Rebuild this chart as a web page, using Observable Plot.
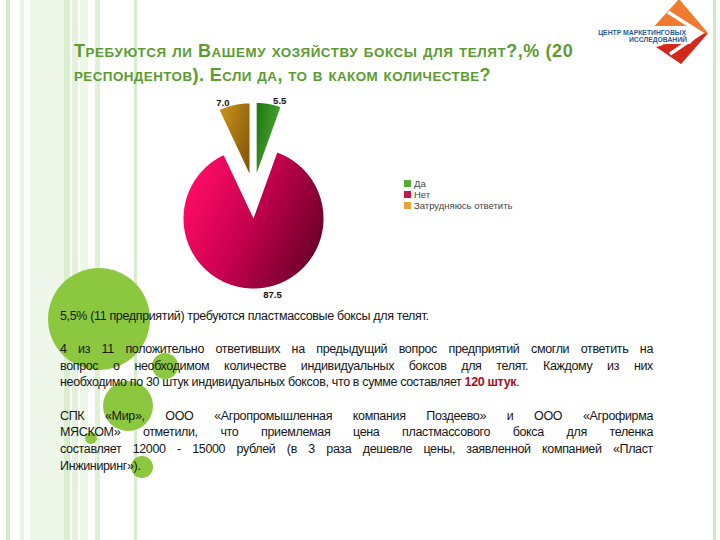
<!DOCTYPE html>
<html><head><meta charset="utf-8">
<script src="https://cdn.jsdelivr.net/npm/d3@7"></script>
<script src="https://cdn.jsdelivr.net/npm/@observablehq/plot@0.6"></script>
<style>
html,body{margin:0;padding:0;background:#fff;}
#page{position:relative;width:720px;height:540px;overflow:hidden;background:#fff;font-family:"Liberation Sans",Arial,sans-serif;}
.abs{position:absolute;}
.stripe{position:absolute;top:0;height:540px;}
.circ{position:absolute;border-radius:50%;background:#8cc83f;}
#title{left:74px;top:40px;font-size:18px;line-height:22px;font-weight:bold;color:#5b9c31;white-space:nowrap;}
#title .sc{font-size:13.4px;}
#logo{left:573px;top:0;width:139px;height:66px;background:#fff;}
#legend{left:404px;top:178px;font-size:9.5px;line-height:11px;color:#444;}
#legend .it{display:flex;align-items:center;}
#legend .sw{width:7px;height:7px;margin-right:3px;}
#body{left:60px;top:307.6px;width:593px;font-size:12.5px;letter-spacing:-0.35px;line-height:16.7px;color:#161616;}
#body .ln{height:16.7px;white-space:nowrap;}
#body .j{text-align:justify;text-align-last:justify;}
#body b{color:#a0101e;}
#chart{left:0;top:0;}
</style></head><body><div id="page"></div>
<script>
// ---- data ----
const categories = ["Да", "Нет", "Затрудняюсь ответить"];
const values = [5.5, 87.5, 7.0];
const explodedCats = ["Да", "Затрудняюсь ответить"];
const titleLines = [
  "Требуются ли Вашему хозяйству боксы для телят?,% (200",
  "респондентов). Если да, то в каком количестве?"
];
const bodyLines = [
  ["5,5% (11 предприятий) требуются пластмассовые боксы для телят.", false],
  ["", false],
  ["4 из 11 положительно ответивших на предыдущий вопрос предприятий смогли ответить на", true],
  ["вопрос о необходимом количестве индивидуальных боксов для телят. Каждому из них", true],
  ["необходимо по 30 штук индивидуальных боксов, что в сумме составляет |120 штук|.", false],
  ["", false],
  ["СПК «Мир», ООО «Агропромышленная компания Поздеево» и ООО «Агрофирма", true],
  ["МЯСКОМ» отметили, что приемлемая цена пластмассового бокса для теленка", true],
  ["составляет 12000 - 15000 рублей (в 3 раза дешевле цены, заявленной компанией «Пласт", true],
  ["Инжиниринг»).", false]
];
const logoLines = ["ЦЕНТР МАРКЕТИНГОВЫХ", "ИССЛЕДОВАНИЙ"];

// ---- styles ----
const titleSpacing = [0.58, 0.43];
const legendColors = {"Да": "#5aaa3a", "Нет": "#c0184f", "Затрудняюсь ответить": "#e8a33a"};
const gradStops = {
  "Да": [["0%", "#237a14"], ["100%", "#4fae38"]],
  "Нет": [["0%", "#ff0d66"], ["45%", "#c8004e"], ["100%", "#650026"]],
  "Затрудняюсь ответить": [["0%", "#c8901a"], ["100%", "#85580a"]]
};

const page = d3.select("#page");

// background stripes
[[6,4,"#d4ebc7"],[20,4,"#e7f4e0"],[30,34,"#eef7e9"],[64,6,"#d9eecd"],[72,6,"#e3f2dc"],[80,8,"#edf7e8"],[95,5,"#dff0d6"],[134,3,"#d6ecca"],[713,3,"#cfe9c3"]]
  .forEach(([x,w,c]) => page.append("div").attr("class","stripe").style("left",x+"px").style("width",w+"px").style("background",c));

// decorative circles
[[99,319,51],[165,366,13],[128,406,25],[91,438,6],[142,467,11]]
  .forEach(([x,y,r]) => page.append("div").attr("class","circ")
    .style("left",(x-r)+"px").style("top",(y-r)+"px").style("width",2*r+"px").style("height",2*r+"px"));

// title (manual small caps)
const title = page.append("div").attr("id","title").attr("class","abs");
titleLines.forEach((t, li) => {
  const line = title.append("div").style("letter-spacing", titleSpacing[li] + "px");
  const runs = [];
  for (const ch of t) {
    const small = ch !== ch.toUpperCase();
    if (runs.length && runs[runs.length-1].small === small) runs[runs.length-1].s += ch;
    else runs.push({small, s: ch});
  }
  runs.forEach(r => line.append("span").attr("class", r.small ? "sc" : null).text(r.small ? r.s.toUpperCase() : r.s));
});

// logo
const logo = page.append("div").attr("id","logo").attr("class","abs");
logo.html(`<svg width="139" height="66" viewBox="573 0 139 66">
<polygon points="679,-1 708,33 681,64 650,31" fill="#f07b2e"/>
<polygon points="656,47 708,33 681,64" fill="#d3261c"/>
<polygon points="640,26 690,26 700,33 690,44 640,44" fill="#fff"/>
<polyline points="668,12 701,33 670,54" fill="none" stroke="#fff" stroke-width="3.5"/>
<text x="686" y="34.5" text-anchor="end" font-size="6.8" font-weight="bold" fill="#2b5a9b" font-family="Liberation Sans, Arial">${logoLines[0]}</text>
<text x="687" y="41.5" text-anchor="end" font-size="6.8" font-weight="bold" fill="#2b5a9b" font-family="Liberation Sans, Arial">${logoLines[1]}</text>
</svg>`);

// ---- pie chart with Plot ----
const R = 70, cx = 253, cy = 218, W = 720, H = 540, explode = 0.66, xDamp = 0.4;
const data = categories.map((c, i) => ({category: c, value: values[i]}));
const arcs = d3.pie().sort(null).value(d => d.value)(data);
const slices = arcs.map((a, i) => {
  const mid = (a.startAngle + a.endAngle) / 2;
  const e = explodedCats.includes(a.data.category) ? explode : 0;
  const ox = e * xDamp * Math.sin(mid), oy = -e * Math.cos(mid);
  const n = Math.max(8, Math.ceil((a.endAngle - a.startAngle) / (Math.PI / 360)));
  const pts = [{x: ox, y: oy}];
  for (let k = 0; k <= n; k++) {
    const t = a.startAngle + (a.endAngle - a.startAngle) * k / n;
    pts.push({x: ox + Math.sin(t), y: oy - Math.cos(t)});
  }
  pts.push({x: ox, y: oy});
  const lr = 1.1;
  const top = Math.cos(mid) > 0;
  return {category: a.data.category, idx: i, pts,
    label: {x: ox + lr * Math.sin(mid) + (top ? 0.14 * Math.sign(Math.sin(mid)) : 0.22),
            y: oy - lr * Math.cos(mid) + (top ? 0.06 : 0),
            text: d3.format(".1f")(a.data.value)}};
});

const svg = Plot.plot({
  width: W, height: H, margin: 0,
  style: {background: "transparent", fontFamily: "Liberation Sans, Arial, sans-serif"},
  x: {domain: [-cx / R, (W - cx) / R], range: [0, W], axis: null},
  y: {domain: [-cy / R, (H - cy) / R], range: [0, H], axis: null},
  marks: [
    ...slices.map(s => Plot.line(s.pts, {x: "x", y: "y", fill: `url(#pieGrad${s.idx})`, stroke: "none", curve: "linear"})),
    Plot.text(slices.map(s => s.label), {x: "x", y: "y", text: "text", fontSize: 9.5, fontWeight: "bold", fill: "#111"})
  ]
});
const defs = d3.select(svg).insert("defs", ":first-child");
slices.forEach(s => {
  const g = defs.append("linearGradient").attr("id", `pieGrad${s.idx}`)
    .attr("x1", "0").attr("y1", s.category === "Нет" ? "0.3" : "0.2").attr("x2", "1").attr("y2", s.category === "Нет" ? "0.75" : "0.8");
  gradStops[s.category].forEach(([o, c]) => g.append("stop").attr("offset", o).attr("stop-color", c));
});
const chartDiv = page.append("div").attr("id","chart").attr("class","abs").style("pointer-events","none");
chartDiv.node().appendChild(svg);

// legend
const legend = page.append("div").attr("id","legend").attr("class","abs");
categories.forEach(c => {
  const it = legend.append("div").attr("class","it");
  it.append("div").attr("class","sw").style("background", legendColors[c]);
  it.append("span").text(c);
});

// body text
const body = page.append("div").attr("id","body").attr("class","abs");
bodyLines.forEach(([t, j]) => {
  const ln = body.append("div").attr("class", "ln" + (j ? " j" : ""));
  if (!t) { ln.html("&nbsp;"); return; }
  const parts = t.split("|");
  parts.forEach((p, k) => { (k % 2 ? ln.append("b") : ln.append("span")).text(p); });
});
</script>
</body></html>
